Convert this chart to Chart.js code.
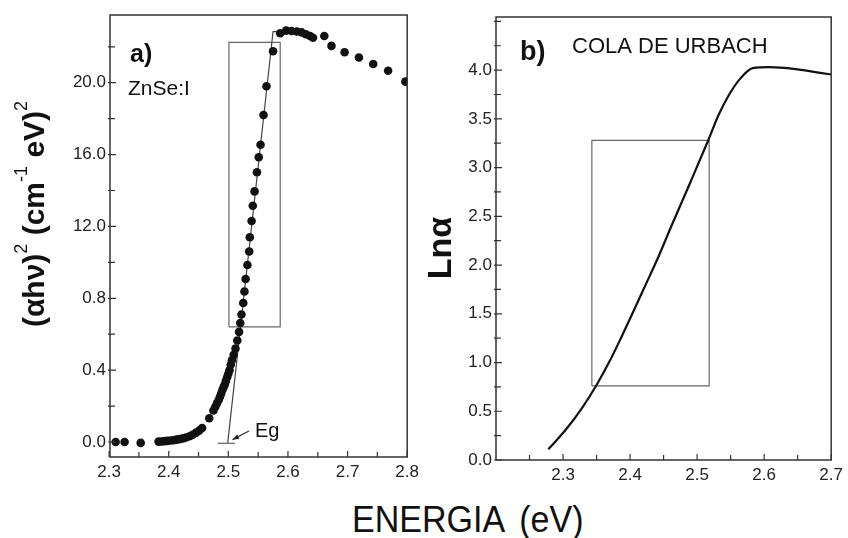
<!DOCTYPE html>
<html>
<head>
<meta charset="utf-8">
<script src="https://cdn.jsdelivr.net/npm/chart.js@4.4.1/dist/chart.umd.min.js"></script>
<style>
body{margin:0;background:#fff;width:848px;height:538px;overflow:hidden;position:relative;font-family:"Liberation Sans",Arial,sans-serif}
#ca{position:absolute;left:0;top:0}
#cb{position:absolute;left:420px;top:0}
#xt{position:absolute;left:352px;top:501px;font-size:37px;line-height:37px;color:#111;white-space:nowrap;word-spacing:7px;transform:scaleX(0.92);transform-origin:left top}
</style>
</head>
<body>
<canvas id="ca" width="424" height="490"></canvas>
<canvas id="cb" width="428" height="490"></canvas>
<div id="xt">ENERGIA (eV)</div>
<script>
const FONT = '"Liberation Sans", Arial, sans-serif';

// a) (alpha h nu)^2 points
const energyA = [2.311,2.326,2.353,2.383,2.388,2.393,2.398,2.403,2.408,2.413,2.418,2.424,2.429,2.435,2.440,2.446,2.451,2.456,2.468,2.475,2.478,2.481,2.484,2.486,2.488,2.490,2.492,2.494,2.496,2.498,2.500,2.502,2.504,2.506,2.509,2.512,2.515,2.518,2.520,2.522,2.525,2.527,2.529,2.532,2.535,2.536,2.539,2.541,2.544,2.548,2.551,2.554,2.559,2.564,2.575,2.587,2.597,2.606,2.615,2.623,2.630,2.637,2.642,2.661,2.673,2.695,2.719,2.743,2.768,2.797];
const alphaA = [0,0,-0.05,0.02,0.03,0.05,0.06,0.08,0.1,0.13,0.16,0.2,0.25,0.32,0.4,0.52,0.63,0.78,1.32,1.75,1.95,2.15,2.35,2.52,2.7,2.89,3.05,3.2,3.4,3.6,3.8,4.0,4.3,4.55,4.85,5.2,5.65,6.13,6.62,7.1,7.74,8.38,9.07,9.85,10.6,11.4,12.3,13.15,13.95,15.02,15.85,16.55,18.2,19.8,21.75,22.75,22.9,22.88,22.85,22.8,22.7,22.6,22.5,22.6,22.05,21.7,21.4,21.04,20.67,20.06];
const fitX = [2.499,2.575,2.586];
const fitY = [-0.05,22.85,22.85];
const egX = [2.482,2.511];
const egY = [-0.07,-0.07];
const boxAX = [2.501,2.587,2.587,2.501,2.501];
const boxAY = [6.41,6.41,22.25,22.25,6.41];
const xTicksA = [2.3,2.35,2.4,2.45,2.5,2.55,2.6,2.65,2.7,2.75,2.8];
const xLabelsA = ['2.3','','2.4','','2.5','','2.6','','2.7','','2.8'];
const yTicksA = [0,2,4,6,8,10,12,14,16,18,20,22];
const yLabelsA = ['0.0','','0.4','','0.8','','12.0','','16.0','','20.0',''];

// b) Urbach tail
const energyB = [2.278,2.304,2.328,2.350,2.370,2.387,2.404,2.422,2.442,2.461,2.490,2.516,2.532,2.547,2.564,2.583,2.608,2.647,2.686,2.70];
const lnB = [0.11,0.31,0.53,0.77,1.02,1.26,1.51,1.78,2.08,2.39,2.85,3.27,3.54,3.74,3.91,4.02,4.03,4.01,3.97,3.955];
const boxBX = [2.343,2.518,2.518,2.343,2.343];
const boxBY = [0.76,0.76,3.28,3.28,0.76];
const xTicksB = [2.25,2.3,2.35,2.4,2.45,2.5,2.55,2.6,2.65,2.7];
const xLabelsB = ['','2.3','','2.4','','2.5','','2.6','','2.7'];
const yTicksB = [0,0.25,0.5,0.75,1,1.25,1.5,1.75,2,2.25,2.5,2.75,3,3.25,3.5,3.75,4,4.25,4.5];
const yLabelsB = ['0.0','','0.5','','1.0','','1.5','','2.0','','2.5','','3.0','','3.5','','4.0','',''];

function pts(xs, ys){ return xs.map((x, i) => ({x: x, y: ys[i]})); }

const frame = {
    id: 'frame',
    afterDraw(chart, args, o){
        const ctx = chart.ctx, a = chart.chartArea, sx = chart.scales.x, sy = chart.scales.y;
        ctx.save();
        ctx.strokeStyle = '#333';
        ctx.lineWidth = 1.5;
        ctx.strokeRect(a.left, a.top, a.right - a.left, a.bottom - a.top);
        ctx.lineWidth = 1.2;
        ctx.beginPath();
        sx.ticks.forEach(t => {
            const x = sx.getPixelForValue(t.value);
            ctx.moveTo(x, a.bottom);
            ctx.lineTo(x, a.bottom - (t.label ? 6 : 5));
        });
        sy.ticks.forEach(t => {
            const y = sy.getPixelForValue(t.value);
            ctx.moveTo(a.left - 2, y);
            ctx.lineTo(a.left + (t.label ? 6 : 5), y);
        });
        ctx.stroke();

        if (o.arrow) {
            const r = o.arrow;
            const x1 = sx.getPixelForValue(r[0]), y1 = sy.getPixelForValue(r[1]);
            const x2 = sx.getPixelForValue(r[2]), y2 = sy.getPixelForValue(r[3]);
            const ang = Math.atan2(y2 - y1, x2 - x1);
            ctx.lineWidth = 1.2;
            ctx.beginPath();
            ctx.moveTo(x1, y1);
            ctx.lineTo(x2, y2);
            ctx.stroke();
            ctx.fillStyle = '#222';
            ctx.beginPath();
            ctx.moveTo(x2, y2);
            ctx.lineTo(x2 - 7 * Math.cos(ang - 0.35), y2 - 7 * Math.sin(ang - 0.35));
            ctx.lineTo(x2 - 7 * Math.cos(ang + 0.35), y2 - 7 * Math.sin(ang + 0.35));
            ctx.closePath();
            ctx.fill();
        }

        ctx.fillStyle = '#111';
        ctx.textAlign = 'left';
        ctx.textBaseline = 'alphabetic';
        o.texts.forEach(s => {
            ctx.font = s[3] + ' ' + FONT;
            ctx.fillText(s[0], s[1], s[2]);
        });

        const ti = o.title;
        const big = 'bold ' + ti.size + 'px ' + FONT;
        const small = Math.round(ti.size * 0.6) + 'px ' + FONT;
        ctx.translate(ti.x, ti.y);
        ctx.rotate(-Math.PI / 2);
        ctx.textBaseline = 'middle';
        let w = 0;
        ti.parts.forEach(p => { ctx.font = p[1] ? small : big; w += ctx.measureText(p[0]).width; });
        let cx = -w / 2;
        ti.parts.forEach(p => {
            ctx.font = p[1] ? small : big;
            ctx.fillText(p[0], cx, p[1] ? -ti.size * 0.45 : 0);
            cx += ctx.measureText(p[0]).width;
        });
        ctx.restore();
    }
};

function axis(min, max, ticks, labels, fit, pad){
    return {
        type: 'linear', min: min, max: max,
        grid: {display: false, drawTicks: false},
        border: {display: false},
        afterBuildTicks: s => { s.ticks = ticks.map(v => ({value: v})); },
        afterFit: fit,
        ticks: {
            callback: (v, i) => labels[i],
            autoSkip: false, maxRotation: 0, padding: pad,
            color: '#222', font: {family: FONT, size: 17}
        }
    };
}

new Chart(document.getElementById('ca'), {
    type: 'scatter',
    data: {
        datasets: [
            {data: pts(energyA, alphaA), backgroundColor: '#111', borderWidth: 0, pointRadius: 4.3},
            {data: pts(fitX, fitY), showLine: true, borderColor: '#444', borderWidth: 1.2, pointRadius: 0},
            {data: pts(egX, egY), showLine: true, borderColor: '#444', borderWidth: 1.2, pointRadius: 0},
            {data: pts(boxAX, boxAY), showLine: true, borderColor: '#666', borderWidth: 1.2, pointRadius: 0}
        ]
    },
    options: {
        responsive: false, animation: false,
        layout: {padding: {top: 15, right: 12, left: 0, bottom: 0}},
        plugins: {
            legend: {display: false}, tooltip: {enabled: false},
            frame: {
                texts: [['a)', 130, 62, 'bold 25px'], ['ZnSe:I', 128, 95, '21px'], ['Eg', 255, 437, '20px']],
                arrow: [2.5346, 0.61, 2.507, 0.13],
                title: {x: 36, y: 214, size: 30, parts: [['(αhν)', false], ['2', true], [' (cm', false], ['-1', true], [' eV)', false], ['2', true]]}
            }
        },
        scales: {
            x: axis(2.3015, 2.8, xTicksA, xLabelsA, s => { s.height = 33; }, 5),
            y: axis(-0.836, 23.77, yTicksA, yLabelsA, s => { s.width = 110; }, 4)
        }
    },
    plugins: [frame]
});

new Chart(document.getElementById('cb'), {
    type: 'scatter',
    data: {
        datasets: [
            {data: pts(energyB, lnB), showLine: true, borderColor: '#111', borderWidth: 2.2, pointRadius: 0, cubicInterpolationMode: 'monotone'},
            {data: pts(boxBX, boxBY), showLine: true, borderColor: '#666', borderWidth: 1.2, pointRadius: 0}
        ]
    },
    options: {
        responsive: false, animation: false,
        layout: {padding: {top: 17, right: 11, left: 0, bottom: 0}},
        plugins: {
            legend: {display: false}, tooltip: {enabled: false},
            frame: {
                texts: [['b)', 100, 60, 'bold 27px'], ['COLA DE URBACH', 152, 53, '22px']],
                title: {x: 22, y: 248, size: 34, parts: [['Lnα', false]]}
            }
        },
        scales: {
            x: axis(2.2, 2.7, xTicksB, xLabelsB, s => { s.height = 30; }, 5),
            y: axis(0, 4.545, yTicksB, yLabelsB, s => { s.width = 76; }, 4)
        }
    },
    plugins: [frame]
});
</script>
</body>
</html>
